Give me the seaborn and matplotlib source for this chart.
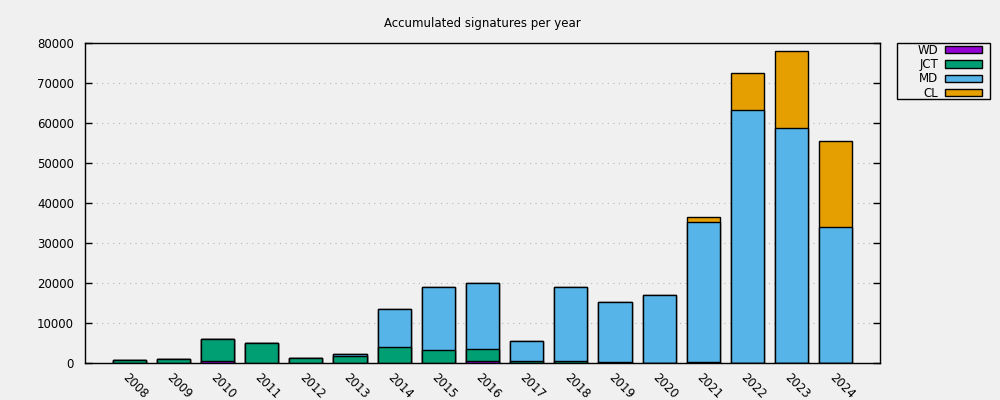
import numpy as np
import pandas as pd
import matplotlib
matplotlib.use("Agg")
import matplotlib.pyplot as plt
import seaborn as sns
from matplotlib.patches import Patch, Rectangle

years = ["2008", "2009", "2010", "2011", "2012", "2013", "2014", "2015", "2016",
         "2017", "2018", "2019", "2020", "2021", "2022", "2023", "2024"]
wd  = [50, 50, 400, 100, 0, 0, 100, 100, 500, 0, 0, 0, 0, 0, 0, 0, 0]
jct = [600, 1000, 5600, 4900, 1250, 1750, 3800, 3100, 2900, 500, 500, 200, 0, 150, 100, 100, 100]
md  = [200, 50, 0, 0, 0, 550, 9600, 15800, 16500, 5000, 18500, 15050, 17100, 35100, 63150, 58650, 33900]
cl  = [0, 0, 0, 0, 0, 0, 0, 0, 0, 0, 0, 0, 0, 1250, 9250, 19250, 21500]

series_names = ["WD", "JCT", "MD", "CL"]
colors = {"WD": "#9400d3", "JCT": "#009e73", "MD": "#56b4e9", "CL": "#e69f00"}

df = pd.DataFrame({"year": years, "WD": wd, "JCT": jct, "MD": md, "CL": cl})
cum = df[series_names].cumsum(axis=1)
cum["year"] = df["year"]

sns.set_style("white")
plt.rcParams["font.family"] = ["DejaVu Sans"]
plt.rcParams["text.color"] = "black"
plt.rcParams["xtick.color"] = "black"
plt.rcParams["ytick.color"] = "black"
plt.rcParams["axes.labelcolor"] = "black"
bg = "#f0f0f0"
fig = plt.figure(figsize=(10, 4), dpi=100, facecolor=bg)
ax = fig.add_axes([0.085, 0.0925, 0.795, 0.80])
ax.set_facecolor(bg)

for name in reversed(series_names):
    sns.barplot(data=cum, x="year", y=name, order=years, color=colors[name],
                saturation=1, width=0.75, edgecolor="black", linewidth=1.0,
                ax=ax, zorder=3)

ax.set_xlim(-1, 17)
ax.set_ylim(0, 80000)
ax.set_yticks(np.arange(0, 80001, 10000))
ax.yaxis.grid(True, color="#b8b8b8", linestyle=(0, (1, 4)), linewidth=0.8, zorder=0)
ax.tick_params(axis="y", direction="in", length=5, width=1, right=True, left=True,
               labelsize=8.5, pad=8, colors="black")
ax.tick_params(axis="x", length=0, labelsize=8.5, pad=6, colors="black")
for lab in ax.get_xticklabels():
    lab.set_rotation(-45)
    lab.set_ha("left")
    lab.set_va("top")
    lab.set_rotation_mode("anchor")
ax.set_xlabel("")
ax.set_ylabel("")
for s in ax.spines.values():
    s.set_visible(True)
    s.set_color("black")
    s.set_linewidth(1.0)

fig.text(0.4825, 0.9425, "Accumulated signatures per year", ha="center", va="center",
         fontsize=8.5, color="black")

handles = [Patch(facecolor=colors[n], edgecolor="black", linewidth=1.0, label=n) for n in series_names]
leg = ax.legend(handles=handles, loc="upper right", bbox_to_anchor=(0.990, 1 - 36 / 400),
                bbox_transform=fig.transFigure,
                frameon=False, fontsize=8.5, markerfirst=False, handlelength=3.1,
                handleheight=0.55, labelspacing=0.1, borderpad=0.68, handletextpad=0.6,
                borderaxespad=0)
fig.add_artist(Rectangle((0.897, 1 - 99 / 400), 0.093, 56 / 400, transform=fig.transFigure,
                         fill=False, edgecolor="black", linewidth=1.0))

fig.savefig("out.png", dpi=100, facecolor=bg)
